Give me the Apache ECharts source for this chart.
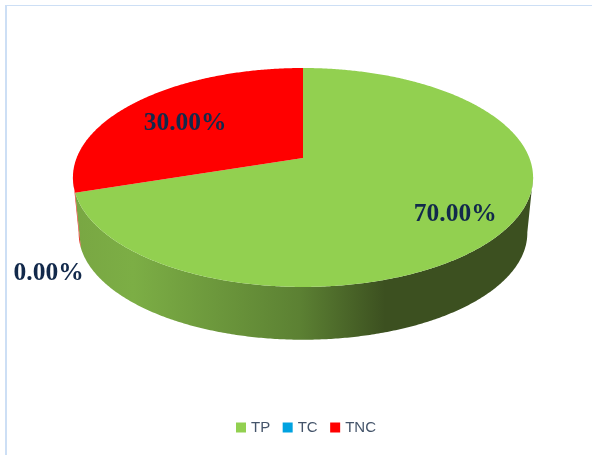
<!DOCTYPE html>
<html>
<head>
<meta charset="utf-8">
<style>html,body{margin:0;padding:0;background:#fff}#c{width:592px;height:455px}</style>
<script src="https://cdn.jsdelivr.net/npm/echarts@6/dist/echarts.min.js"></script>
</head>
<body>
<div id="c"></div>
<script>
// Data
const categories = ['TP', 'TC', 'TNC'];
const values = [70, 0, 30];

// Styling
const topColors = ['#92D050', '#00A2E0', '#FF0000'];
const sideColors = [null, '#0080B0', '#E0301F'];
const labelRadius = [0.76, 1, 0.69];
const labelShift = [[1, 5], [-26.5, 81], [0, 6]];

// Projection of the tilted disc
const APEX = { x: 303, y: 158 };
const PROJ = { A: 226.4, a: 106, b: 0.178 };
const BOTTOM = { scale: 0.975, y: 214 };
const VISIBLE = [100, 260];
const total = values.reduce((s, v) => s + v, 0);
const starts = values.map((_, i) => values.slice(0, i).reduce((s, v) => s + v, 0) / total * 360);

function project(deg, r) {
  const t = deg * Math.PI / 180, u = r * Math.sin(t), v = r * Math.cos(t);
  const w = 1 + PROJ.b * v;
  return [PROJ.A * u / w, -PROJ.a * v / w];
}
function arc(from, to) {
  const pts = [], n = Math.max(1, Math.ceil(Math.abs(to - from) * 2));
  for (let i = 0; i <= n; i++) pts.push(project(from + (to - from) * i / n, 1));
  return pts;
}
const sideGradient = new echarts.graphic.LinearGradient(78, 0, 385, 0, [
  { offset: 0, color: '#79A743' },
  { offset: 0.18, color: '#7CAE45' },
  { offset: 0.72, color: '#5C8133' },
  { offset: 1, color: '#3C5020' }
], true);

function makeRender(i) {
  return function (params, api) {
    const share = api.value(0) / total * 360;
    const a0 = starts[i], a1 = a0 + share;
    const children = [];
    if (share > 0) {
      const lo = Math.max(a0, VISIBLE[0]), hi = Math.min(a1, VISIBLE[1]);
      if (hi > lo) {
        const upper = arc(lo, hi).map(p => [APEX.x + p[0], APEX.y + p[1]]);
        const lower = arc(hi, lo).map(p => [APEX.x + p[0] * BOTTOM.scale, BOTTOM.y + p[1] * BOTTOM.scale]);
        children.push({
          type: 'polygon',
          shape: { points: upper.concat(lower) },
          style: { fill: sideColors[i] || sideGradient }
        });
      }
      const top = [[APEX.x, APEX.y]].concat(arc(a0, a1).map(p => [APEX.x + p[0], APEX.y + p[1]]));
      children.push({ type: 'polygon', shape: { points: top }, style: { fill: topColors[i] } });
    }
    const m = project(a0 + share / 2, labelRadius[i]);
    children.push({
      type: 'text',
      z2: 10,
      style: {
        x: APEX.x + m[0] + labelShift[i][0],
        y: APEX.y + m[1] + labelShift[i][1],
        text: (api.value(0) / total * 100).toFixed(2) + '%',
        fill: '#12294B',
        font: 'bold 25.5px "Liberation Serif"',
        align: 'center',
        verticalAlign: 'middle'
      }
    });
    return { type: 'group', children };
  };
}

const chart = echarts.init(document.getElementById('c'), null, { renderer: 'canvas' });
chart.setOption({
  animation: false,
  backgroundColor: '#fff',
  legend: {
    data: categories,
    left: 236,
    top: 420,
    icon: 'rect',
    itemWidth: 10,
    itemHeight: 10,
    itemGap: 12.5,
    padding: 0,
    textStyle: { color: '#44546A', fontFamily: 'Liberation Sans', fontSize: 15 }
  },
  graphic: [
    { type: 'rect', silent: true, shape: { x: 5, y: 5, width: 2, height: 450 }, style: { fill: '#CDDFF5' } },
    { type: 'rect', silent: true, shape: { x: 5, y: 5, width: 587, height: 1 }, style: { fill: '#CDDFF5' } }
  ],
  series: categories.map((name, i) => ({
    type: 'custom',
    name,
    coordinateSystem: 'none',
    itemStyle: { color: topColors[i] },
    data: [[values[i]]],
    renderItem: makeRender(i)
  }))
});
</script>
</body>
</html>
